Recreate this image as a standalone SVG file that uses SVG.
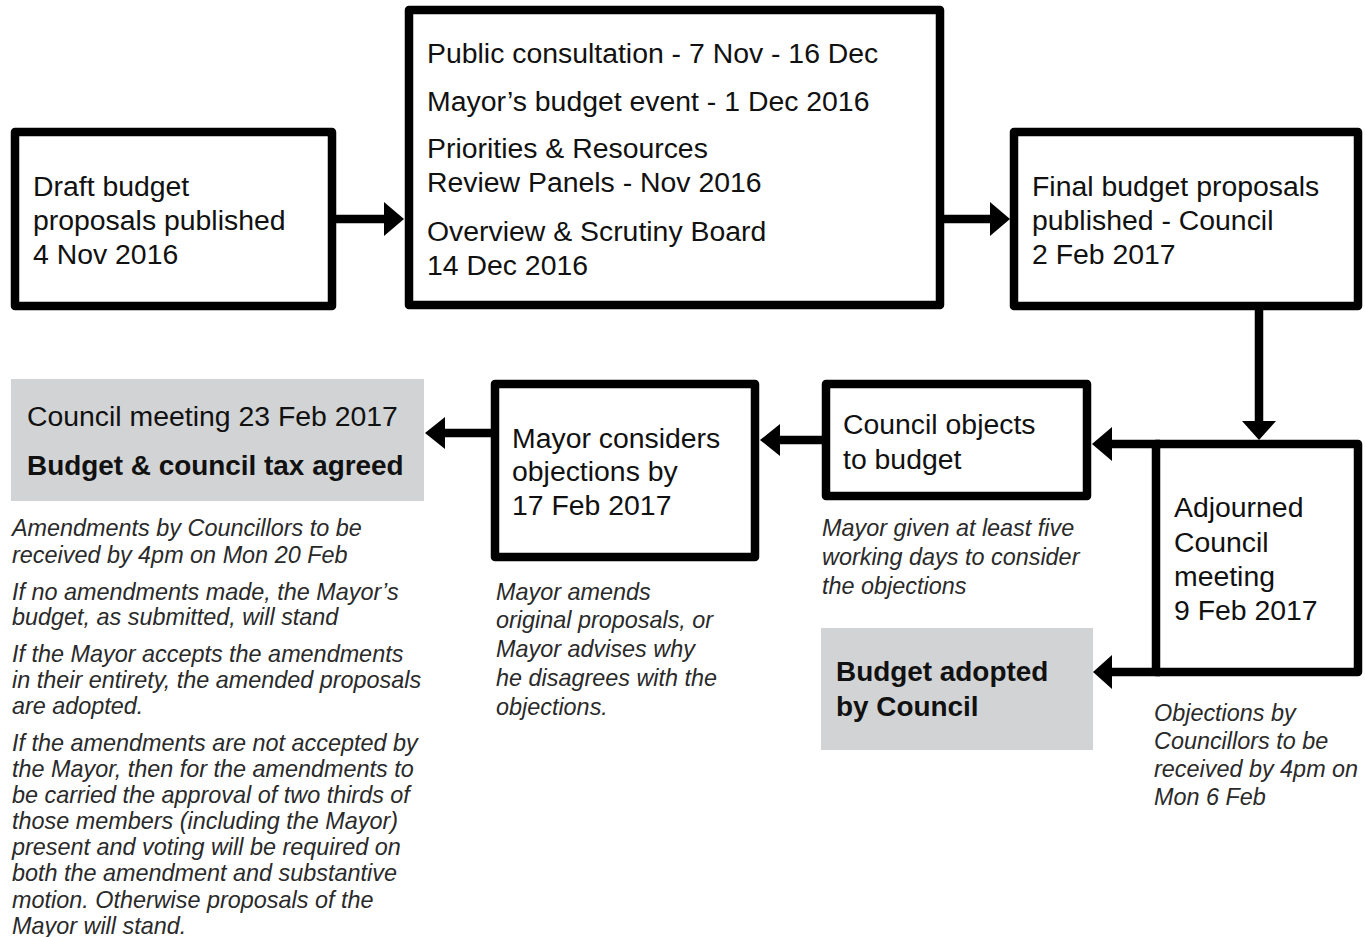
<svg xmlns="http://www.w3.org/2000/svg" width="1365" height="937" viewBox="0 0 1365 937">
<style>
.box{fill:#fff;stroke:#000;stroke-width:8.5;stroke-linejoin:round}
.grey{fill:#d1d3d4}
.t{font-family:"Liberation Sans",Arial,sans-serif;font-size:28.4px;fill:#111}
.b{font-family:"Liberation Sans",Arial,sans-serif;font-size:27.9px;font-weight:bold;fill:#111}
.n{font-family:"Liberation Sans",Arial,sans-serif;font-size:23.4px;font-style:italic;fill:#2a2a2a}
.c{stroke:#000;stroke-width:8.5;fill:none}
.h{fill:#000}
</style>
<rect width="1365" height="937" fill="#fff"/>
<g id="connectors">
<line class="c" x1="336" y1="219" x2="387" y2="219"/>
<polygon class="h" points="384,202 404,219 384,236"/>
<line class="c" x1="944" y1="219" x2="993" y2="219"/>
<polygon class="h" points="990,202 1010,219 990,236"/>
<line class="c" x1="1259" y1="309" x2="1259" y2="424"/>
<polygon class="h" points="1242,421 1259,440 1276,421"/>
<line class="c" x1="1160" y1="444" x2="1108" y2="444"/>
<polygon class="h" points="1112,427 1092,444 1112,461"/>
<line class="c" x1="1160" y1="672" x2="1108" y2="672"/>
<polygon class="h" points="1112,655 1093,672 1112,689"/>
<line class="c" x1="822" y1="440" x2="776" y2="440"/>
<polygon class="h" points="780,424 760,440 780,456"/>
<line class="c" x1="491" y1="433" x2="441" y2="433"/>
<polygon class="h" points="445,417 425,433 445,449"/>
</g>
<g id="draft">
<rect class="box" x="15" y="132" width="317" height="174"/>
<text class="t" x="33" y="196">Draft budget</text>
<text class="t" x="33" y="230">proposals published</text>
<text class="t" x="33" y="264">4 Nov 2016</text>
</g>
<g id="consultation">
<rect class="box" x="409" y="10" width="531" height="295"/>
<text class="t" x="427" y="63">Public consultation - 7 Nov - 16 Dec</text>
<text class="t" x="427" y="111">Mayor’s budget event - 1 Dec 2016</text>
<text class="t" x="427" y="158">Priorities &amp; Resources</text>
<text class="t" x="427" y="192">Review Panels - Nov 2016</text>
<text class="t" x="427" y="241">Overview &amp; Scrutiny Board</text>
<text class="t" x="427" y="275">14 Dec 2016</text>
</g>
<g id="final">
<rect class="box" x="1014" y="132" width="344" height="174"/>
<text class="t" x="1032" y="196">Final budget proposals</text>
<text class="t" x="1032" y="230">published - Council</text>
<text class="t" x="1032" y="264">2 Feb 2017</text>
</g>
<g id="adjourned">
<rect class="box" x="1156" y="444" width="202" height="228"/>
<text class="t" x="1174" y="517">Adjourned</text>
<text class="t" x="1174" y="552">Council</text>
<text class="t" x="1174" y="586">meeting</text>
<text class="t" x="1174" y="620">9 Feb 2017</text>
<text class="n" x="1154" y="721">Objections by</text>
<text class="n" x="1154" y="749">Councillors to be</text>
<text class="n" x="1154" y="777">received by 4pm on</text>
<text class="n" x="1154" y="805">Mon 6 Feb</text>
</g>
<g id="objects">
<rect class="box" x="826" y="384" width="261" height="112"/>
<text class="t" x="843" y="434">Council objects</text>
<text class="t" x="843" y="469">to budget</text>
<text class="n" x="822" y="536">Mayor given at least five</text>
<text class="n" x="822" y="565">working days to consider</text>
<text class="n" x="822" y="594">the objections</text>
</g>
<g id="adopted">
<rect class="grey" x="821" y="628" width="272" height="122"/>
<text class="b" x="836" y="681">Budget adopted</text>
<text class="b" x="836" y="716">by Council</text>
</g>
<g id="mayor">
<rect class="box" x="495" y="384" width="260" height="173"/>
<text class="t" x="512" y="448">Mayor considers</text>
<text class="t" x="512" y="481">objections by</text>
<text class="t" x="512" y="515">17 Feb 2017</text>
<text class="n" x="496" y="600">Mayor amends</text>
<text class="n" x="496" y="628">original proposals, or</text>
<text class="n" x="496" y="657">Mayor advises why</text>
<text class="n" x="496" y="686">he disagrees with the</text>
<text class="n" x="496" y="715">objections.</text>
</g>
<g id="meeting">
<rect class="grey" x="11" y="379" width="413" height="122"/>
<text class="t" x="27" y="426">Council meeting 23 Feb 2017</text>
<text class="b" x="27" y="475">Budget &amp; council tax agreed</text>
<text class="n" x="12" y="536">Amendments by Councillors to be</text>
<text class="n" x="12" y="563">received by 4pm on Mon 20 Feb</text>
<text class="n" x="12" y="600">If no amendments made, the Mayor’s</text>
<text class="n" x="12" y="625">budget, as submitted, will stand</text>
<text class="n" x="12" y="662">If the Mayor accepts the amendments</text>
<text class="n" x="12" y="688">in their entirety, the amended proposals</text>
<text class="n" x="12" y="714">are adopted.</text>
<text class="n" x="12" y="751">If the amendments are not accepted by</text>
<text class="n" x="12" y="777">the Mayor, then for the amendments to</text>
<text class="n" x="12" y="803">be carried the approval of two thirds of</text>
<text class="n" x="12" y="829">those members (including the Mayor)</text>
<text class="n" x="12" y="855">present and voting will be required on</text>
<text class="n" x="12" y="881">both the amendment and substantive</text>
<text class="n" x="12" y="908">motion. Otherwise proposals of the</text>
<text class="n" x="12" y="934">Mayor will stand.</text>
</g>
</svg>
